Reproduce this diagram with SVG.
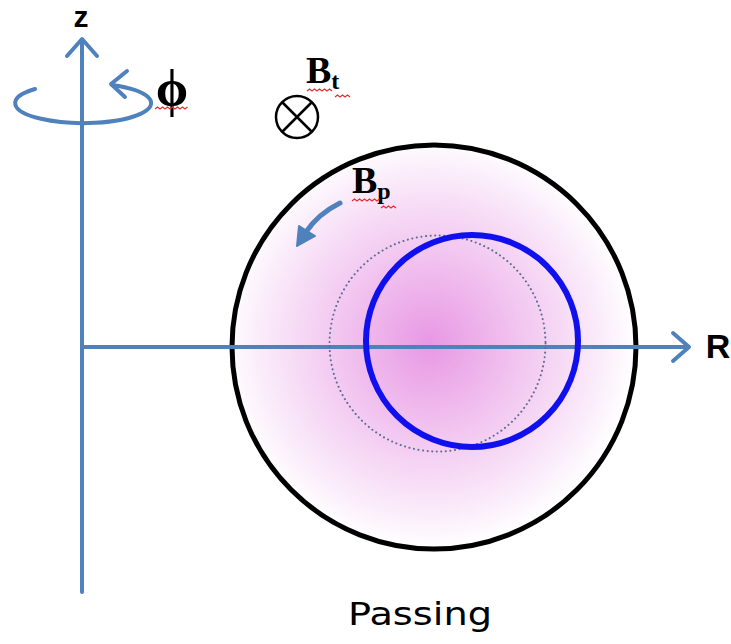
<svg xmlns="http://www.w3.org/2000/svg" width="731" height="644" viewBox="0 0 731 644">
<style>
.ax{stroke:#4f81bd;stroke-width:4;fill:none;stroke-linecap:round;stroke-linejoin:round}
.lbl{font-family:"Liberation Sans","DejaVu Sans",sans-serif;font-weight:bold;fill:#000}
.b{font-family:"Liberation Serif","DejaVu Serif",serif;font-weight:bold;fill:#000}
.sq{stroke:#e03030;stroke-width:1.2;fill:none}
</style>
<defs>
<radialGradient id="pink" cx="430" cy="343" r="205" gradientUnits="userSpaceOnUse">
<stop offset="0" stop-color="#e898e4"/>
<stop offset="0.45" stop-color="#f2c6f0"/>
<stop offset="0.85" stop-color="#fbeefb"/>
<stop offset="1" stop-color="#ffffff"/>
</radialGradient>
</defs>
<rect width="731" height="644" fill="#fff"/>
<g id="plasma">
<circle cx="434" cy="347" r="202" fill="url(#pink)" stroke="#000" stroke-width="5"/>
</g>
<g id="connectors">
<path class="ax" d="M82 592 V40"/>
<path class="ax" d="M67 56 L82 39 L97 56"/>
<path class="ax" d="M84 347 H688"/>
<path class="ax" d="M673 333 L689 347 L673 361"/>
<path class="ax" d="M35 89 A68 20 0 1 0 112 85"/>
<path class="ax" d="M127 71 L111 84 L125 97"/>
<path d="M340 203 Q318 214 306 232" stroke="#4f81bd" stroke-width="5" fill="none" stroke-linecap="round"/>
<path d="M297 246 L299 226 L315 236 Z" fill="#4f81bd" stroke="#4f81bd" stroke-width="2" stroke-linejoin="round"/>
</g>
<g id="dotted-orbit">
<circle cx="437.5" cy="343.5" r="108" fill="none" stroke="#5a6d94" stroke-width="2" stroke-dasharray="0.1 4.5" stroke-linecap="round"/>
</g>
<g id="passing-orbit">
<circle cx="472" cy="341" r="106" fill="none" stroke="#1010ee" stroke-width="6"/>
</g>
<g id="bt-symbol">
<circle cx="297" cy="117" r="21" fill="none" stroke="#000" stroke-width="2.5"/>
<path d="M282 102 L312 132 M312 102 L282 132" stroke="#000" stroke-width="2.5"/>
</g>
<g id="labels">
<text class="lbl" x="81" y="27" font-size="30" text-anchor="middle">z</text>
<text class="lbl" x="718" y="358" font-size="34" text-anchor="middle">R</text>
<text class="b" x="172" y="106" font-size="52" text-anchor="middle">ϕ</text>
<text class="b" x="306" y="83" font-size="38">B<tspan font-size="24" dy="6">t</tspan></text>
<text class="b" x="352" y="193" font-size="38">B<tspan font-size="24" dy="6">p</tspan></text>
<text x="420" y="625" font-family="'DejaVu Sans','Liberation Sans',sans-serif" font-size="32" fill="#000" text-anchor="middle" textLength="144" lengthAdjust="spacingAndGlyphs">Passing</text>
</g>
<g id="spellcheck-marks">
<path class="sq" d="M155 109 l2.5 -2 l2.5 2 l2.5 -2 l2.5 2 l2.5 -2 l2.5 2 l2.5 -2 l2.5 2 l2.5 -2 l2.5 2 l2.5 -2 l2.5 2 l2.5 -2"/>
<path class="sq" d="M307 91 l2.5 -2 l2.5 2 l2.5 -2 l2.5 2 l2.5 -2 l2.5 2 l2.5 -2 l2.5 2 l2.5 -2 l2.5 2 M335 97 l2.5 -2 l2.5 2 l2.5 -2 l2.5 2 l2.5 -2 l2.5 2"/>
<path class="sq" d="M352 201 l2.5 -2 l2.5 2 l2.5 -2 l2.5 2 l2.5 -2 l2.5 2 l2.5 -2 l2.5 2 l2.5 -2 l2.5 2 l2.5 -2 M381 208 l2.5 -2 l2.5 2 l2.5 -2 l2.5 2 l2.5 -2 l2.5 2"/>
</g>
</svg>
